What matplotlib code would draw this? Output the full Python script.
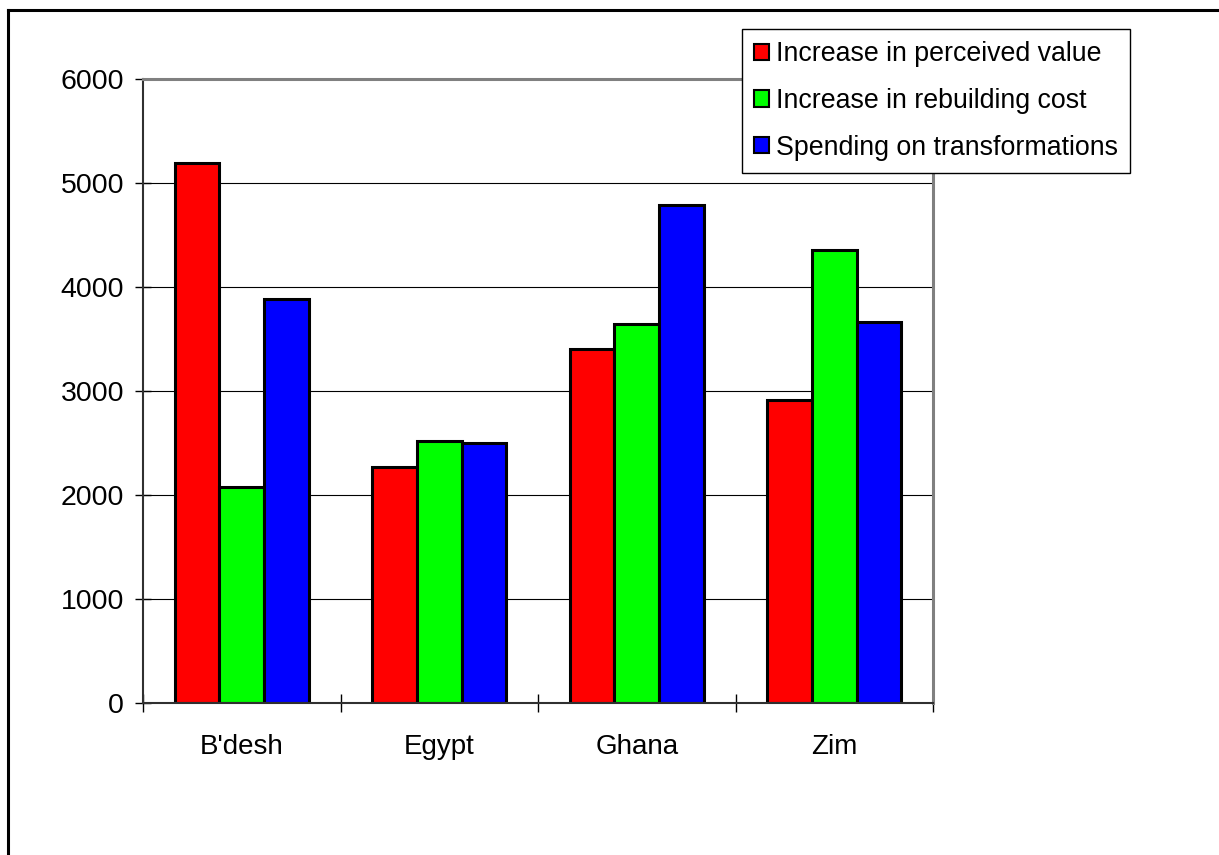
import matplotlib
matplotlib.use('Agg')
import matplotlib.pyplot as plt
import numpy as np
from matplotlib.lines import Line2D

plt.rcParams['font.family'] = ['Liberation Sans', 'DejaVu Sans']

countries   = ["B'desh", 'Egypt', 'Ghana', 'Zim']
perceived   = [5190, 2270, 3400, 2910]
rebuilding  = [2080, 2520, 3640, 4360]
transforms  = [3880, 2500, 4790, 3660]
series      = [('Increase in perceived value', perceived, '#ff0000'),
               ('Increase in rebuilding cost', rebuilding, '#00ff00'),
               ('Spending on transformations', transforms, '#0000ff')]
yticks      = [0, 1000, 2000, 3000, 4000, 5000, 6000]

fig = plt.figure(figsize=(12.19, 8.55), dpi=100)
ax  = fig.add_axes([143/1219, 1-703/855, (933-143)/1219, (703-79)/855])

x     = np.arange(len(countries))
width = 0.226
for i, (label, values, colour) in enumerate(series):
    ax.bar(x + (i-1)*width, values, width, color=colour, edgecolor='black',
           linewidth=2.2, label=label, zorder=3)

ax.set_xlim(-0.5, 3.5)
ax.set_ylim(0, 6000)
ax.set_yticks(yticks)
ax.set_yticklabels([str(v) for v in yticks], fontsize=20.5)
ax.tick_params(axis='y', direction='inout', length=11.5, width=1, pad=8)

# category ticks sit on the group boundaries, labels in the middle
ax.set_xticks(np.arange(-0.5, 4, 1))
ax.set_xticklabels([])
ax.set_xticks(x, minor=True)
ax.set_xticklabels(countries, minor=True, fontsize=20)
ax.tick_params(axis='x', which='major', direction='inout', length=13, width=1)
ax.tick_params(axis='x', which='minor', length=0, pad=22)

for v in yticks[1:-1]:
    ax.axhline(v, color='black', linewidth=0.8, zorder=1)

for side in ['top', 'right']:
    ax.spines[side].set_color('#808080')
    ax.spines[side].set_linewidth(2.2)
for side in ['left', 'bottom']:
    ax.spines[side].set_color('#303030')
    ax.spines[side].set_linewidth(1.5)
ax.spines['bottom'].set_zorder(4)

leg = ax.legend(loc='upper left', bbox_to_anchor=(742/1219, 1-29/855),
                bbox_transform=fig.transFigure, fontsize=19.3, frameon=True,
                fancybox=False, framealpha=1, edgecolor='black',
                handlelength=0.55, handleheight=0.55, handletextpad=0.25,
                borderpad=0.45, labelspacing=0.78, borderaxespad=0)
leg.get_frame().set_linewidth(1)
for h in leg.legend_handles:
    h.set_linewidth(1.5)

# border round the chart area
fig.add_artist(Line2D([8/1219, 8/1219], [0, 1-10/855], color='black',
                      linewidth=2.2, transform=fig.transFigure))
fig.add_artist(Line2D([8/1219, 1], [1-10/855, 1-10/855], color='black',
                      linewidth=2.2, transform=fig.transFigure))

fig.savefig('out.png', dpi=100)
